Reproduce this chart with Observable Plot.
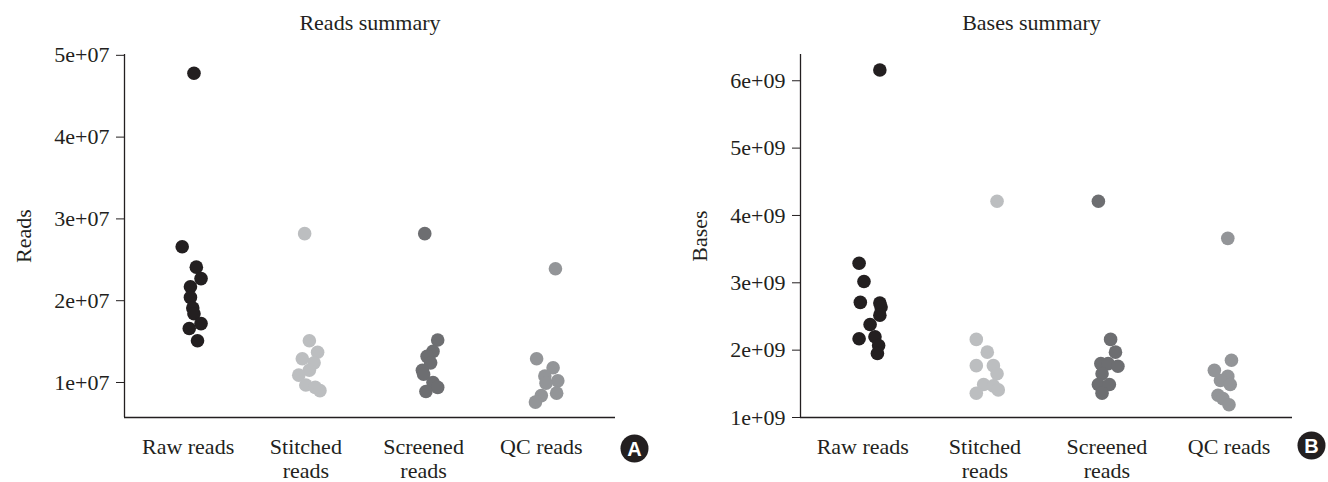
<!DOCTYPE html>
<html>
<head>
<meta charset="utf-8">
<script src="https://cdn.jsdelivr.net/npm/d3@7"></script>
<script src="https://cdn.jsdelivr.net/npm/@observablehq/plot@0.6"></script>
<style>
  html, body { margin: 0; padding: 0; background: #fff; }
  #wrap { display: flex; width: 1328px; height: 482px; }
</style>
</head>
<body>
<div id="wrap"></div>
<script>
// Categories (x axis labels)
const categories = ["Raw reads", "Stitched\nreads", "Screened\nreads", "QC reads"];
const colors = ["#231f20", "#bcbec0", "#6d6e71", "#939598"];

// Panel A: Reads per sample
const readsRaw      = [4.78e7, 2.66e7, 2.41e7, 2.27e7, 2.17e7, 2.04e7, 1.91e7, 1.84e7, 1.72e7, 1.66e7, 1.51e7];
const readsStitched = [2.82e7, 1.51e7, 1.37e7, 1.29e7, 1.24e7, 1.15e7, 1.09e7, 0.97e7, 0.94e7, 0.90e7];
const readsScreened = [2.82e7, 1.52e7, 1.38e7, 1.32e7, 1.24e7, 1.15e7, 1.10e7, 1.00e7, 0.94e7, 0.89e7];
const readsQC       = [2.39e7, 1.29e7, 1.18e7, 1.08e7, 1.02e7, 0.99e7, 0.87e7, 0.84e7, 0.76e7];
// jitter (category units) of each point, as seen in the picture
const jitReadsRaw      = [0.05, -0.05, 0.07, 0.11, 0.02, 0.02, 0.04, 0.05, 0.11, 0.01, 0.08];
const jitReadsStitched = [-0.01, 0.03, 0.10, -0.03, 0.07, 0.03, -0.06, 0.00, 0.08, 0.12];
const jitReadsScreened = [0.01, 0.12, 0.08, 0.03, 0.06, -0.01, 0.00, 0.08, 0.12, 0.02];
const jitReadsQC       = [0.12, -0.04, 0.10, 0.03, 0.14, 0.04, 0.13, 0.00, -0.05];
const readsTicks = [1e7, 2e7, 3e7, 4e7, 5e7];

// Panel B: Bases per sample
const basesRaw      = [6.16e9, 3.29e9, 3.02e9, 2.71e9, 2.70e9, 2.64e9, 2.52e9, 2.38e9, 2.17e9, 2.20e9, 2.07e9, 1.95e9];
const basesStitched = [4.21e9, 2.16e9, 1.97e9, 1.77e9, 1.77e9, 1.65e9, 1.49e9, 1.47e9, 1.41e9, 1.36e9];
const basesScreened = [4.21e9, 2.16e9, 1.97e9, 1.80e9, 1.80e9, 1.76e9, 1.65e9, 1.49e9, 1.49e9, 1.36e9];
const basesQC       = [3.66e9, 1.85e9, 1.70e9, 1.61e9, 1.55e9, 1.49e9, 1.33e9, 1.28e9, 1.19e9];
const jitBasesRaw      = [0.14, -0.03, 0.01, -0.02, 0.14, 0.15, 0.14, 0.06, -0.03, 0.10, 0.13, 0.12];
const jitBasesStitched = [0.10, -0.07, 0.02, -0.07, 0.07, 0.10, -0.01, 0.07, 0.11, -0.07];
const jitBasesScreened = [-0.07, 0.03, 0.07, -0.05, 0.01, 0.09, -0.04, -0.07, 0.02, -0.04];
const jitBasesQC       = [-0.01, 0.02, -0.12, -0.01, -0.07, 0.01, -0.09, -0.05, 0.00];
const basesTicks = [1e9, 2e9, 3e9, 4e9, 5e9, 6e9];

function rows(seriesList, jitList) {
  const out = [];
  seriesList.forEach((vals, i) => vals.forEach((v, k) => out.push({cat: i, pos: i + jitList[i][k], value: v})));
  return out;
}
const fmt = d => d.toExponential(0).replace(/e([+-])(\d)$/, "e$10$2");
const FONT = "'Liberation Serif', 'DejaVu Serif', serif";
const INK = "#231f20";
const FS = 22;

function panel({data, ticks, yDomain, xDomain, title, titleDx, ylabel, badge, badgeDy, mLeft, mRight}) {
  return Plot.plot({
    width: 664, height: 482,
    marginTop: 54, marginBottom: 65, marginLeft: mLeft, marginRight: mRight,
    style: {fontFamily: FONT, fontSize: FS + "px", color: INK, background: "#fff"},
    x: {domain: xDomain, axis: null},
    y: {domain: yDomain, axis: null},
    marks: [
      Plot.ruleX([xDomain[0]], {stroke: INK, strokeWidth: 1.3}),
      Plot.ruleY([yDomain[0]], {stroke: INK, strokeWidth: 1.3}),
      Plot.axisY({ticks, tickFormat: fmt, tickSize: 8, tickPadding: 7, label: null, fontSize: FS, stroke: INK, fill: INK}),
      Plot.axisX({ticks: [0, 1, 2, 3], tickFormat: i => categories[i], tickSize: 0, tickPadding: 19, lineHeight: 1.1, label: null, fontSize: FS, fill: INK}),
      Plot.dot(data, {x: "pos", y: "value", r: 6.8, fill: d => colors[d.cat], stroke: "none"}),
      Plot.text([title], {frameAnchor: "top", lineAnchor: "middle", textAnchor: "middle", dy: -32, dx: titleDx, fontSize: FS, fill: INK}),
      Plot.text([ylabel], {frameAnchor: "left", textAnchor: "middle", lineAnchor: "middle", dx: -101, rotate: -90, fontSize: FS, fill: INK}),
      Plot.dot([badge], {frameAnchor: "bottom-right", dx: 19, dy: badgeDy, r: 14, fill: INK, stroke: "none"}),
      Plot.text([badge], {frameAnchor: "bottom-right", textAnchor: "middle", lineAnchor: "middle", dx: 19, dy: badgeDy + 1, fill: "#fff", fontSize: 20, fontWeight: "bold", fontFamily: "'Liberation Sans', Arial, sans-serif"})
    ]
  });
}

const wrap = document.getElementById("wrap");
wrap.append(panel({
  data: rows([readsRaw, readsStitched, readsScreened, readsQC], [jitReadsRaw, jitReadsStitched, jitReadsScreened, jitReadsQC]),
  ticks: readsTicks, yDomain: [5.72e6, 5.01e7], xDomain: [-0.54, 3.63],
  title: "Reads summary", titleDx: 0, ylabel: "Reads", badge: "A", badgeDy: 31, mLeft: 124, mRight: 49
}));
wrap.append(panel({
  data: rows([basesRaw, basesStitched, basesScreened, basesQC], [jitBasesRaw, jitBasesStitched, jitBasesScreened, jitBasesQC]),
  ticks: basesTicks, yDomain: [1e9, 6.39e9], xDomain: [-0.51, 3.52],
  title: "Bases summary", titleDx: -15, ylabel: "Bases", badge: "B", badgeDy: 28, mLeft: 136, mRight: 36
}));
</script>
</body>
</html>
